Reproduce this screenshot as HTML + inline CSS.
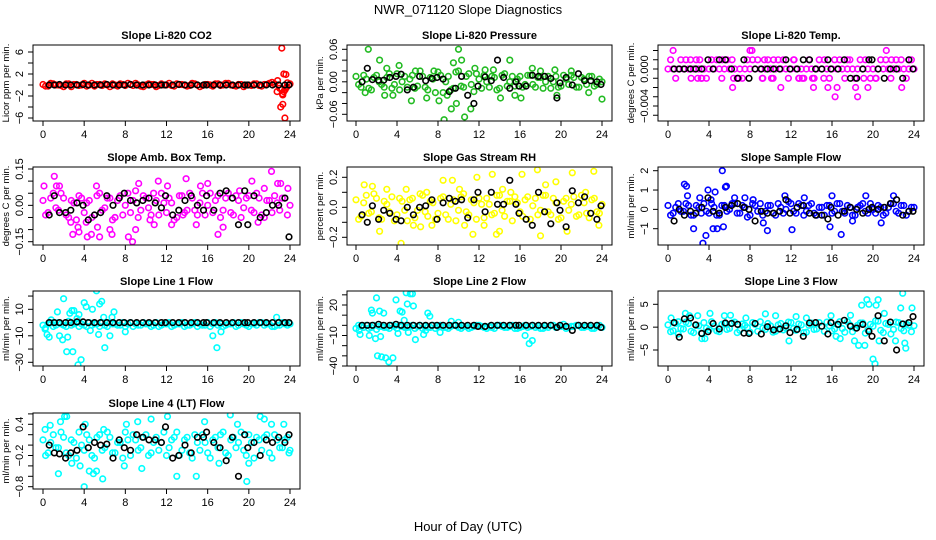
<!DOCTYPE html>
<html><head><meta charset="utf-8"><style>
html,body{margin:0;padding:0;background:#fff;}
svg{display:block;font-family:"Liberation Sans",sans-serif;}
</style></head><body>
<svg id="chart" width="936" height="540" viewBox="0 0 936 540" xmlns="http://www.w3.org/2000/svg">
<text x="468" y="14" text-anchor="middle" font-size="13">NWR_071120  Slope Diagnostics</text>
<text x="468" y="531" text-anchor="middle" font-size="13">Hour of Day (UTC)</text>
</svg>
<script>
// shared hours
const hoursA=[0,0.5,1,1.5,2,2.5,3,3.5,4,4.5,5,5.5,6,6.5,7,7.5,8,8.5,9,9.5,10,10.5,11,11.5,12,12.5,13,13.5,14,14.5,15,15.5,16,16.5,17,17.5,18,18.5,19,19.5,20,20.5,21,21.5,22,22.5,23,23.5,24];
const hoursB=[0.25,0.75,1.25,1.75,2.25,2.75,3.25,3.75,4.25,4.75,5.25,5.75,6.25,6.75,7.25,7.75,8.25,8.75,9.25,9.75,10.25,10.75,11.25,11.75,12.25,12.75,13.25,13.75,14.25,14.75,15.25,15.75,16.25,16.75,17.25,17.75,18.25,18.75,19.25,19.75,20.25,20.75,21.25,21.75,22.25,22.75,23.25,23.75];
const hoursBlack=[0.6,1.1,1.6,2.2,2.7,3.3,3.9,4.4,5.0,5.6,6.2,6.8,7.4,7.9,8.5,9.1,9.7,10.3,10.9,11.5,11.9,12.6,13.2,13.8,14.4,15.0,15.6,15.9,16.6,17.2,17.8,18.4,19.0,19.6,19.9,20.5,21.1,21.7,22.3,22.9,23.5,23.9];
const xTicks=[0,4,8,12,16,20,24];

// 1 CO2
const co2A=[0.1,-0.2,0.2,0,-0.3,0.2,0.1,-0.1,0.3,0,-0.2,0.1,0.2,-0.3,0,0.2,-0.1,0.1,0.3,-0.2,0,0.1,-0.3,0.2,0,-0.1,0.2,0.1,-0.2,0.3,0,-0.1,0.1,-0.2,0.2,0,0.3,-0.1,0.1,-0.3,0,0.2,-0.1,0.1,0.3,0.2,-0.6,-0.9,0.2];
const co2B=[-0.2,0.3,0,-0.1,0.2,-0.3,0.1,0,-0.2,0.3,0.1,-0.1,0,0.2,-0.2,0.1,0.3,-0.1,0,-0.3,0.2,0.1,-0.1,0,0.3,-0.2,0.1,0,-0.1,0.2,-0.3,0.1,0,0.2,-0.1,0.3,0,-0.2,0.1,0,-0.1,0.2,-0.2,0.1,0.5,-1.2,-1.6,0.4];
const co2OutX=[23.2,23.4,23.6,23.3,23.1,23.5,23.3,23.6,23.4,22.8,23.7,23.2];
const co2OutY=[6.7,2.0,1.9,-3.5,-4.0,-6.0,-1.8,-0.6,-1.2,0.8,-0.3,-0.8];
const co2Black=[0,0,0.1,0,0,0,0.1,0,0,0,0.1,0,0,0,0.1,0,0,0,0,0,0,0,0.1,0,0,0,0,0,0,0,0,0,0,0,0,0,0,0,0,0,0,0];
// 2 Pressure
const presA=[0.01,-0.01,0.005,-0.015,0.012,-0.005,0.008,-0.012,0.015,0,-0.01,0.012,-0.008,0.01,-0.015,0.005,0.018,-0.02,0.01,-0.012,0.02,-0.01,0.015,-0.018,0.005,0.012,-0.01,0.008,-0.012,0.015,0,-0.008,0.01,-0.005,0.012,-0.01,0.008,0,-0.012,0.01,-0.008,0.005,0.012,-0.01,0.008,-0.005,0.01,-0.005,0];
const presB=[-0.005,0.012,-0.012,0.008,0,-0.01,0.015,-0.005,-0.015,0.01,0.005,-0.012,0.02,-0.01,0.008,-0.02,0.012,0,-0.015,0.018,-0.008,0.01,-0.005,0.015,-0.012,0,0.01,-0.015,0.012,-0.008,0.01,0.005,-0.01,0.012,-0.005,0.008,-0.012,0.01,0,-0.01,0.012,-0.005,0.008,-0.01,0.005,0.01,-0.008,0.005];
const presOutX=[1.2,2.3,2.8,3.6,4.2,5.4,6.9,7.6,8.1,8.6,8.9,9.3,9.8,10.0,10.3,10.6,11.2,11.6,12.6,13.4,14.1,15.0,15.5,16.1,17.2,18.0,19.4,19.6,21.0,22.7,24.0,0.9,3.0,5.8,9.5];
const presOutY=[0.06,0.04,-0.025,-0.025,0.03,-0.035,-0.03,0.02,-0.035,-0.07,-0.025,-0.05,-0.04,0.06,0.04,-0.065,-0.05,0.025,0.022,0.022,-0.03,0.04,-0.025,-0.03,0.025,0.02,0.022,-0.025,0.02,-0.02,-0.032,-0.02,0.025,0.02,0.035];
const presBlack=[0,0.025,0.004,0.003,0.003,0.008,0.01,0.014,-0.015,-0.01,0.01,0.002,0.006,0.008,0.005,-0.018,-0.012,0.01,-0.025,-0.04,-0.008,0.009,0.002,0.04,0.008,-0.012,0,-0.008,-0.008,0.012,0.01,0.01,0.006,-0.03,-0.002,0.008,-0.006,0.015,0.002,0.002,0,-0.005];
// 3 Li-820 Temp
const tempA=[0,0,0,0,0,0,0,0,0,0,0,0,0,0,0,0,0,0,0,0,0,0,0,0,0,0,0,0,0,0,0,0,0,0,0,0,0,0,0,0,0,0,0,0,0,0,0,0,0];
const tempB=[0.001,-0.001,0.001,0.001,-0.001,0.001,-0.001,-0.001,0.001,0.001,-0.001,0.001,0.001,-0.001,-0.001,0.001,0.001,0.001,-0.001,0.001,-0.001,0.001,0.001,-0.001,0.001,-0.001,-0.001,0.001,-0.001,0.001,0.001,-0.001,0.001,0.001,-0.001,0.001,-0.001,0.001,0.001,-0.001,-0.001,0.001,0.001,-0.001,0.001,0.001,-0.001,0.001];
const tempOutX=[0.5,2.2,3.3,5.3,6.3,6.4,8.0,8.2,9.4,10.3,10.1,11.0,12.3,14.1,14.2,15.6,16.5,16.3,17.8,18.3,18.5,19.5,21.3,21.8,22.8,23.5,3.1,6.9,9.2,13.1,17.5,19.1,2.9,12.8,15.2,20.3];
const tempOutY=[0.002,0.001,-0.001,0.001,-0.002,-0.001,0.002,0.002,0.001,0.001,-0.001,-0.002,0.001,-0.001,-0.002,-0.002,-0.002,-0.003,-0.006,-0.002,-0.003,-0.002,0.002,0.001,-0.002,0.001,0.001,-0.001,-0.001,-0.001,0.001,-0.001,-0.001,-0.001,-0.001,-0.001];
const tempBlack=[0,0,0,0,0,0,0.001,0,0.001,0.001,0,-0.001,0.001,-0.001,0,0,0,0,0,0.001,0,0,0.001,0.001,0,0,0.001,0,0,0.001,-0.001,-0.001,0,0.001,0.001,0,-0.001,0,0,-0.001,0.001,0];
// 4 Amb box temp
const ambA=[0.02,-0.03,0.05,-0.02,0.03,-0.05,0.01,0.04,-0.03,0.02,-0.04,0.05,-0.01,0.03,-0.05,0.04,0,-0.03,0.06,-0.02,0.03,-0.04,0.02,0.05,-0.03,0.01,-0.05,0.04,-0.02,0.03,-0.04,0.05,0,-0.03,0.04,-0.02,0.05,-0.04,0.02,-0.01,0.04,-0.03,0.03,-0.05,0.02,0.04,-0.02,0.03,0];
const ambB=[-0.04,0.03,-0.01,0.05,-0.04,0.02,-0.06,0.03,0.01,-0.05,0.04,-0.02,0.03,-0.06,0.02,-0.04,0.05,0.02,-0.05,0.04,-0.01,0.05,-0.04,0.01,0.03,-0.06,0.04,-0.03,0.05,-0.02,0.01,-0.04,0.05,0.02,-0.05,0.03,-0.03,0.04,-0.05,0.03,-0.02,0.05,-0.04,0.02,-0.03,0.01,0.03,-0.04];
const ambOutX=[0.1,1.1,1.3,1.6,2.7,2.9,3.4,3.5,4.2,4.3,4.7,5.3,5.2,5.5,6.5,6.7,7.0,8.3,8.7,9.0,10.4,10.8,11.2,12.1,12.5,13.6,13.9,14.9,15.3,16.0,17.0,17.5,19.1,20.3,20.9,21.5,22.2,22.8,23.8,23.1,9.3];
const ambOutY=[0.08,0.12,0.08,0.08,-0.07,-0.12,-0.09,-0.11,-0.07,-0.13,-0.12,-0.09,0.08,-0.13,-0.10,-0.12,-0.05,-0.13,-0.15,-0.1,-0.06,-0.08,0.1,0.08,-0.08,-0.04,0.11,-0.08,0.08,0.09,-0.12,-0.09,0.06,0.1,-0.07,0.07,0.14,0.09,0.07,0.09,0.09];
const ambBlack=[-0.04,0.04,-0.03,-0.03,-0.02,0.01,0,-0.06,-0.04,-0.03,0.04,0.00,0.03,0.05,0.02,0.01,0.02,0.03,0.01,-0.01,0.04,-0.04,-0.02,0.02,0.04,0,-0.02,0.04,-0.02,0.05,0.06,0.03,-0.08,0.06,-0.08,0.04,-0.05,-0.03,0,0,0.03,-0.13];
// 5 RH
const rhA=[0.05,-0.06,0.08,-0.03,0.06,-0.08,0.02,0.07,-0.05,0.04,-0.09,0.06,-0.02,0.08,-0.06,0.03,-0.04,0.07,-0.08,0.05,-0.02,0.09,-0.05,0.03,0.06,-0.07,0.02,-0.04,0.08,-0.06,0.04,0.07,-0.03,0.05,-0.08,0.06,-0.02,0.08,-0.05,0.03,-0.07,0.06,0.02,-0.06,0.08,-0.04,0.05,-0.03,0.02];
const rhB=[-0.08,0.03,-0.04,0.09,-0.07,0.04,-0.03,-0.09,0.06,-0.02,0.05,-0.07,0.09,-0.03,0.04,-0.08,0.06,-0.05,0.02,-0.09,0.07,-0.03,0.05,-0.08,0.02,0.06,-0.05,0.08,-0.02,0.04,-0.09,0.03,-0.06,0.07,0.01,-0.05,0.08,-0.03,0.06,-0.08,0.04,-0.02,0.07,-0.05,0.03,-0.07,0.06,-0.04];
const rhOutX=[0.8,1.6,2.3,4.4,4.9,5.6,6.9,7.4,8.5,9.4,10.1,10.6,11.4,11.8,12.5,13.3,14.0,14.3,15.1,16.2,17.7,18.0,18.5,19.5,20.6,21.1,22.4,23.2,23.7,3.0,6.3,13.7];
const rhOutY=[0.15,0.14,-0.16,-0.24,0.12,-0.12,0.1,-0.12,0.18,0.18,0.12,-0.12,-0.18,0.2,-0.12,0.22,-0.16,0.12,0.1,0.22,0.25,-0.19,0.15,0.17,-0.16,0.23,0.1,0.24,-0.12,0.12,-0.13,-0.18];
const rhBlack=[-0.05,-0.1,0.01,-0.08,-0.02,-0.04,-0.08,-0.09,0,-0.05,0,0.01,0.05,-0.08,0.03,0.06,0.04,0.05,-0.07,0.05,0.1,-0.03,0.1,0.02,0.02,0.18,0.02,-0.04,-0.08,-0.12,0.1,-0.03,-0.11,0.03,-0.02,-0.13,0.11,0.03,0.07,-0.04,-0.08,0.01];
// 6 Sample flow
const sfA=[0.2,-0.2,0.3,-0.1,0.2,-0.3,0.1,0.3,-0.2,0.1,-0.3,0.2,0,0.3,-0.2,0.1,-0.3,0.2,0.3,-0.1,0.2,-0.3,0.1,0,0.3,-0.2,0.2,-0.1,0.3,-0.3,0.1,0.2,-0.2,0.3,-0.1,0.2,-0.3,0.1,0.3,-0.2,0,0.2,-0.3,0.1,0.3,-0.2,0.2,-0.1,0.1];
const sfB=[-0.3,0.1,-0.1,0.3,-0.3,0.2,-0.2,-0.1,0.3,-0.3,0.2,-0.1,0.3,-0.2,0.2,-0.4,0.3,-0.1,-0.3,0.2,-0.2,0.3,-0.2,0.4,-0.1,0.3,-0.3,0.2,-0.2,0.1,-0.3,0.2,-0.1,0.3,-0.2,0.1,-0.3,0.2,-0.1,0.3,-0.2,0.1,-0.2,0.3,-0.1,0.2,-0.3,0.1];
const sfOutX=[1.6,1.8,1.9,2.5,3.4,3.7,3.9,4.4,4.6,4.8,5.3,5.4,5.6,5.7,4.2,8.3,9.3,9.7,11.4,12.1,13.3,15.8,16.0,16.9,18.0,19.3,20.8,22.0,3.1,6.5,7.5];
const sfOutY=[1.3,1.2,0.7,-1.0,-1.75,-1.35,1.0,-1.0,0.9,-1.0,2.0,-0.9,1.15,1.2,0.5,0.5,-0.7,-1.1,0.7,-1.05,0.6,-0.9,0.7,-1.3,-0.6,0.7,-0.7,0.7,0.6,0.6,0.6];
const sfBlack=[-0.6,0,-0.3,-0.1,-0.2,0.1,0.6,-0.1,-0.2,0.1,0.2,0.3,0.1,0,-0.6,-0.1,-0.2,-0.2,-0.1,0.5,-0.2,0.1,0.2,-0.2,-0.3,-0.3,-0.5,0.1,-0.3,-0.1,0.1,0,-0.2,0,0.1,0,0.1,0.3,0.5,-0.3,-0.1,-0.1];
// 7 Line 1
const l1A=[-2,-1,-3,0,-2,1,-1,-3,-2,0,-1,-3,-2,0,-1,-2,-3,0,-1,-2,-1,-3,0,-2,-1,-3,-1,0,-2,-1,-3,-2,0,-1,-2,-3,-1,0,-2,-1,-3,-1,0,-2,-1,-3,-2,-1,-1];
const l1B=[-4,0,-2,-1,-3,-2,0,-1,-3,-2,-1,0,-3,-1,-2,0,-1,-3,-2,0,-1,-2,-3,-1,0,-2,-1,-3,-2,0,-1,-2,-3,0,-1,-2,-1,-3,0,-2,-1,-2,0,-1,-3,-2,0,-2];
const l1OutX=[0.2,0.4,0.6,0.8,1.4,1.6,1.9,2.0,2.3,2.4,2.6,2.8,2.9,3.0,3.3,3.4,3.5,3.7,4.0,4.2,4.6,4.8,5.2,5.4,5.5,5.7,5.9,6.0,6.5,6.7,6.9,8.0,16.5,16.9,17.3,22.7];
const l1OutY=[-5,-9,-11,2,8,-10,-13,18,-22,-11,7,9,-22,9,3,-32,6,-28,15,12,-6,10,24,-9,14,16,4,-19,-10,4,8,-7,-10,-19,-7,4];
const l1Black=[0,0,0,0,0,0.5,0.5,0,0,0,0,0,0,0,0,0,0,0,0,0,0,0,0,0,0,0,0,0,0,0,0,0,0,0,0,0,0,0,0,0,0,0];
// 8 Line 2
const l2A=[-3,-1,0,-2,-4,-1,-2,0,-3,-1,-2,0,-1,-3,-2,0,-1,-2,-3,0,-2,-1,-3,-1,0,-2,-1,-3,0,-2,-1,-3,-2,0,-1,-2,-3,-1,0,-2,-1,-3,-1,0,-2,-1,-3,-1,-2];
const l2B=[0,-2,-3,0,-1,-2,-3,-1,0,-2,-1,-3,0,-1,-2,-3,0,-2,-1,0,-3,-1,-2,0,-1,-3,-2,0,-1,-2,0,-3,-1,-2,0,-1,-3,-2,0,-1,1,-2,-1,0,-2,-1,-3,0];
const l2OutX=[0.3,0.4,1.3,1.5,1.6,1.9,2.0,2.1,2.3,2.4,2.5,2.7,2.9,3.2,3.6,3.9,4.1,4.3,4.5,4.7,4.9,5.0,5.1,5.3,5.5,5.6,5.8,6.6,6.8,7.0,7.2,8.2,16.5,16.9,17.2,9.3,10.0];
const l2OutY=[-5,-9,-10,15,12,-13,27,-30,14,-11,-31,12,-32,-36,-32,25,-8,14,13,5,32,21,-7,31,31,19,-14,-9,-5,12,9,-7,-10,-18,-15,4,3];
const l2Black=[0,0,0,1,0,0,1,0,0,0,0,0,0,0,0,0,0,0,0,0,-1,-1,0,0,0,0,0,0,0,0,0,0,0,-2,0,-1,-5,0,0,0,0,-2];
// 9 Line 3
const l3A=[0.5,-0.8,1.2,-0.4,0.8,-1.2,0.3,1.0,-0.6,0.2,-1.0,0.8,-0.3,1.1,-0.7,0.4,-1.1,0.6,1.2,-0.5,0.3,-0.9,0.8,-0.2,1.0,-0.7,0.5,-1.1,0.9,-0.4,0.2,1.1,-0.8,0.6,-0.3,1.2,-1.0,0.4,0.9,-0.6,0.2,1.3,-1.2,0.6,-0.5,1.0,-0.8,0.4,0.3];
const l3B=[-1.0,0.8,-0.3,1.1,-0.9,0.4,-1.3,-0.2,1.2,-0.8,0.6,-0.5,0.9,-1.2,0.7,-0.1,1.0,-0.9,-0.2,0.8,-1.1,0.5,-0.6,1.1,-0.3,0.7,-1.2,0.4,-0.5,1.0,-0.9,0.3,-0.4,1.2,-1.1,0.5,-0.2,0.9,-1.3,0.6,1.4,-0.7,0.8,-1.5,1.1,-0.3,0.7,-1.0];
const l3OutX=[0.3,1.7,2.1,2.9,3.3,3.6,4.1,5.5,7.6,9.5,10.5,11.8,12.5,13.5,15.9,16.4,16.8,17.8,18.2,18.6,18.9,19.2,19.4,19.6,20.0,20.2,20.3,20.5,20.6,21.1,22.2,22.7,22.9,23.1,23.2,23.8,1.0,6.1];
const l3OutY=[2,3,2.5,2.5,-2.5,-2.5,3,2.5,2,2.9,2.5,-3,2.3,2,2.5,-2,-2.5,2.6,-3,-4,4.8,-4,6,5,-7,-8,4.8,6,-3,3,-3,4.2,7.4,-3.5,-4.6,4.2,-1.5,2.6];
const l3Black=[1,-2.2,1.8,2,0.5,-1.4,-1,0.8,-0.4,0.9,0.8,0.6,-1.3,-1.4,0.8,-1.5,0.1,-0.6,-0.4,0.3,-1.2,-0.5,-2,0.9,1.0,0.2,-1.5,1,0.6,1.5,0.2,-0.2,0.6,-0.9,-2,2.5,-3,1.1,-5,0.7,1.0,2.3];
// 10 Line 4
const l4A=[0.1,-0.15,0.2,-0.05,0.15,-0.2,0.05,0.25,-0.1,0.1,-0.25,0.2,-0.05,0.15,-0.15,0.05,0.25,-0.2,0.1,-0.05,0.2,-0.15,0.15,0.05,-0.2,0.1,0.25,-0.1,0.15,-0.25,0.05,0.2,-0.15,0.1,-0.05,0.25,-0.2,0.15,0.05,-0.1,0.2,-0.25,0.1,0.15,-0.15,0.2,-0.05,0.1,-0.1];
const l4B=[-0.2,0.05,-0.05,0.25,-0.15,0.1,-0.25,0,0.2,-0.2,0.15,-0.1,0.25,-0.15,0.05,-0.25,0.1,0.2,-0.1,0.15,-0.2,0.05,-0.1,0.25,-0.05,0.15,-0.2,0.1,-0.15,0.2,-0.1,0.05,-0.25,0.15,0.2,-0.15,0.1,-0.05,0.25,-0.2,0.05,0.15,-0.1,0.2,-0.25,0.1,-0.05,0.15];
const l4OutX=[0.2,0.7,1.5,1.7,2.1,2.3,2.8,3.6,4.1,4.0,4.5,4.9,5.2,5.8,5.9,7.9,8.1,9.2,9.6,10.5,12.1,13.0,14.9,15.7,17.1,18.2,18.9,19.8,20.0,21.1,21.5,22.2,23.4,23.9];
const l4OutY=[0.3,0.38,-0.55,0.45,0.55,0.55,-0.35,-0.4,0.4,-0.8,-0.5,-0.55,-0.5,-0.65,0.3,-0.4,0.4,0.45,-0.45,0.5,0.55,-0.6,-0.6,0.45,-0.35,0.58,0.4,-0.7,-0.35,0.55,0.5,0.4,0.4,-0.15];
const l4Black=[0,-0.15,-0.17,-0.25,-0.15,-0.1,0.35,-0.05,0.05,0,0.02,-0.25,0.1,-0.05,-0.1,0.2,0.15,0.1,0.1,0.05,0.35,-0.25,-0.2,0,-0.15,0.15,0.15,0.25,0.05,-0.05,-0.3,0.15,-0.6,0.2,-0.05,0.05,-0.2,0.1,0.05,0.15,0.05,0.2];

// tick values / labels
const co2Ticks=[-6,-4,-2,0,2,4,6], co2Labels=[-6,-2,2,6];
const presTicks=[-0.06,-0.04,-0.02,0,0.02,0.04,0.06], presLabels=[-0.06,0,0.06];
const tempTicks=[-0.005,-0.004,-0.003,-0.002,-0.001,0,0.001,0.002], tempLabels=[-0.004,0];
const ambTicks=[-0.15,-0.1,-0.05,0,0.05,0.1,0.15], ambLabels=[-0.15,0,0.15];
const rhTicks=[-0.2,-0.1,0,0.1,0.2], rhLabels=[-0.2,0,0.2];
const sfTicks=[-1,0,1,2], sfLabels=[-1,0,1,2];
const l1Ticks=[-30,-20,-10,0,10,20], l1Labels=[-30,-10,10];
const l2Ticks=[-40,-30,-20,-10,0,10,20,30], l2Labels=[-40,-10,20];
const l3Ticks=[-5,0,5], l3Labels=[-5,0,5];
const l4Ticks=[-0.8,-0.6,-0.4,-0.2,0,0.2,0.4,0.6], l4Labels=[-0.8,-0.2,0.4];

const cols=[{L:33,R:300,x0:43,x24:290},{L:347,R:612,x0:356,x24:602},{L:658,R:924,x0:668,x24:914}];
const rows=[{T:45,B:121},{T:167,B:245},{T:291,B:366},{T:413,B:489}];

const panels=[
 {id:'co2',c:0,r:0,title:'Slope Li-820 CO2',ylab:'Licor ppm per min.',color:'#ff0000',v1:6,p1:52,v2:-6,p2:118,A:co2A,B:co2B,ox:co2OutX,oy:co2OutY,bk:co2Black,ticks:co2Ticks,labels:co2Labels,fmt:v=>String(v)},
 {id:'pressure',c:1,r:0,title:'Slope Li-820 Pressure',ylab:'kPa per min.',color:'#22bb22',v1:0.06,p1:49.3,v2:-0.06,p2:114.3,A:presA,B:presB,ox:presOutX,oy:presOutY,bk:presBlack,ticks:presTicks,labels:presLabels,fmt:v=>v.toFixed(2)},
 {id:'li820-temp',c:2,r:0,title:'Slope Li-820 Temp.',ylab:'degrees C per min.',color:'#ff00ff',v1:0,p1:69,v2:-0.004,p2:106,A:tempA,B:tempB,ox:tempOutX,oy:tempOutY,bk:tempBlack,ticks:tempTicks,labels:tempLabels,fmt:v=>v.toFixed(3)},
 {id:'amb-box-temp',c:0,r:1,title:'Slope Amb. Box Temp.',ylab:'degrees C per min.',color:'#ff00ff',v1:0.15,p1:169,v2:-0.15,p2:241.7,A:ambA,B:ambB,ox:ambOutX,oy:ambOutY,bk:ambBlack,ticks:ambTicks,labels:ambLabels,fmt:v=>v.toFixed(2)},
 {id:'gas-stream-rh',c:1,r:1,title:'Slope Gas Stream RH',ylab:'percent per min.',color:'#ffff00',v1:0.2,p1:177.3,v2:-0.2,p2:237.3,A:rhA,B:rhB,ox:rhOutX,oy:rhOutY,bk:rhBlack,ticks:rhTicks,labels:rhLabels,fmt:v=>v.toFixed(1)},
 {id:'sample-flow',c:2,r:1,title:'Slope Sample Flow',ylab:'ml/min per min.',color:'#0000ff',v1:2,p1:170.7,v2:-1,p2:228.7,A:sfA,B:sfB,ox:sfOutX,oy:sfOutY,bk:sfBlack,ticks:sfTicks,labels:sfLabels,fmt:v=>String(v)},
 {id:'line1-flow',c:0,r:2,title:'Slope Line 1 Flow',ylab:'ml/min per min.',color:'#00ffff',v1:10,p1:309.3,v2:-30,p2:362.3,A:l1A,B:l1B,ox:l1OutX,oy:l1OutY,bk:l1Black,ticks:l1Ticks,labels:l1Labels,fmt:v=>String(v)},
 {id:'line2-flow',c:1,r:2,title:'Slope Line 2 Flow',ylab:'ml/min per min.',color:'#00ffff',v1:20,p1:305,v2:-40,p2:366,A:l2A,B:l2B,ox:l2OutX,oy:l2OutY,bk:l2Black,ticks:l2Ticks,labels:l2Labels,fmt:v=>String(v)},
 {id:'line3-flow',c:2,r:2,title:'Slope Line 3 Flow',ylab:'ml/min per min.',color:'#00ffff',v1:5,p1:304.3,v2:-5,p2:350,A:l3A,B:l3B,ox:l3OutX,oy:l3OutY,bk:l3Black,ticks:l3Ticks,labels:l3Labels,fmt:v=>String(v)},
 {id:'line4-flow',c:0,r:3,title:'Slope Line 4 (LT) Flow',ylab:'ml/min per min.',color:'#00ffff',v1:0.4,p1:424.3,v2:-0.8,p2:486.7,A:l4A,B:l4B,ox:l4OutX,oy:l4OutY,bk:l4Black,ticks:l4Ticks,labels:l4Labels,fmt:v=>v.toFixed(1)}
];

const NS='http://www.w3.org/2000/svg';
const svg=document.getElementById('chart');
function mk(tag,attrs,parent){const e=document.createElementNS(NS,tag);for(const k in attrs)e.setAttribute(k,attrs[k]);parent.appendChild(e);return e;}

panels.forEach(p=>{
  const col=cols[p.c],row=rows[p.r];
  const xs=h=>col.x0+(col.x24-col.x0)*h/24;
  const ys=v=>p.p1+(p.p2-p.p1)*(v-p.v1)/(p.v2-p.v1);
  const g=mk('g',{},svg);
  
  
  const clip=mk('clipPath',{id:'clip-'+p.id},g);
  mk('rect',{x:col.L,y:row.T,width:col.R-col.L,height:row.B-row.T},clip);
  const pts=mk('g',{'clip-path':'url(#clip-'+p.id+')'},g);
  
  
  const dot=(x,y,color,name)=>{
    const c=mk('circle',{cx:xs(x).toFixed(1),cy:ys(y).toFixed(1),r:2.8,fill:'none',stroke:color,'stroke-width':1.6},pts);
    
    
  };
  for(let i=0;i<Math.min(hoursA.length,p.A.length);i++) dot(hoursA[i],p.A[i],p.color,p.id+'-point');
  for(let i=0;i<Math.min(hoursB.length,p.B.length);i++) dot(hoursB[i],p.B[i],p.color,p.id+'-point');
  for(let i=0;i<Math.min(p.ox.length,p.oy.length);i++) dot(p.ox[i],p.oy[i],p.color,p.id+'-outlier');
  for(let i=0;i<Math.min(hoursBlack.length,p.bk.length);i++) dot(hoursBlack[i],p.bk[i],'#000',p.id+'-reference-point');
  const box=mk('rect',{x:col.L,y:row.T,width:col.R-col.L,height:row.B-row.T,fill:'none',stroke:'#000','stroke-width':1},g);
  
  
  const t=mk('text',{x:(col.L+col.R)/2,y:row.T-6,'text-anchor':'middle','font-size':11,'font-weight':'bold'},g);
  t.textContent=p.title;
  
  
  const xa=mk('g',{},g);
  
  
  mk('line',{x1:xs(0),x2:xs(24),y1:row.B,y2:row.B,stroke:'#000'},xa);
  xTicks.forEach(h=>{
    mk('line',{x1:xs(h),x2:xs(h),y1:row.B,y2:row.B+5,stroke:'#000'},xa);
    const l=mk('text',{x:xs(h),y:row.B+17,'text-anchor':'middle','font-size':11},xa);
    l.textContent=h;
    
    
  });
  const ya=mk('g',{},g);
  
  
  const tk=p.ticks.filter(v=>ys(v)>=row.T-0.5&&ys(v)<=row.B+0.5);
  mk('line',{x1:col.L,x2:col.L,y1:ys(Math.min(...tk)),y2:ys(Math.max(...tk)),stroke:'#000'},ya);
  tk.forEach(v=>mk('line',{x1:col.L-5,x2:col.L,y1:ys(v),y2:ys(v),stroke:'#000'},ya));
  p.labels.forEach(v=>{
    const x=col.L-10,y=ys(v);
    const l=mk('text',{x:x,y:y,'text-anchor':'middle','font-size':11,transform:'rotate(-90 '+x+' '+y+')'},ya);
    l.textContent=p.fmt(v).replace('-','\u2212');
    
    
  });
  const yx=col.L-24,yy=(row.T+row.B)/2;
  const yl=mk('text',{x:yx,y:yy,'text-anchor':'middle','font-size':9.5,transform:'rotate(-90 '+yx+' '+yy+')'},g);
  yl.textContent=p.ylab;
  
  
});
</script>
</body></html>
